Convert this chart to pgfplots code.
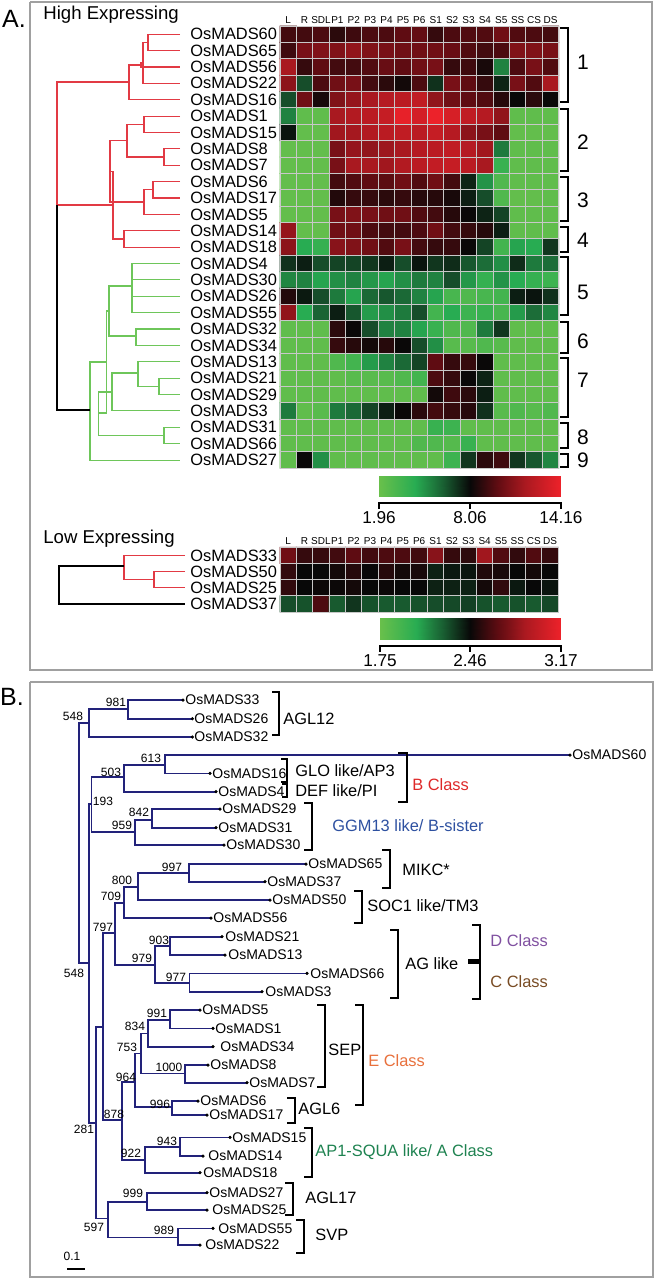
\documentclass[border=0pt]{standalone}
\usepackage{pgfplots}
\pgfplotsset{compat=1.18}
\usepackage{fontspec}
\setmainfont{Liberation Sans}

\definecolor{dred}{RGB}{226,58,68}
\definecolor{dgreen}{RGB}{110,198,90}
\definecolor{tblue}{RGB}{34,34,122}
\definecolor{boxgray}{RGB}{160,160,160}
\definecolor{cellline}{RGB}{200,200,200}
\definecolor{bred}{RGB}{222,40,40}
\definecolor{ggblue}{RGB}{45,80,160}
\definecolor{dpurple}{RGB}{128,80,160}
\definecolor{cbrown}{RGB}{120,75,35}
\definecolor{eorange}{RGB}{232,112,60}
\definecolor{agreen}{RGB}{30,130,80}

\pgfplotsset{
  colormap={gbr}{rgb255(0cm)=(105,192,75) rgb255(4cm)=(40,172,82) rgb255(7cm)=(25,95,50)
    rgb255(10cm)=(8,8,8) rgb255(13cm)=(95,12,18) rgb255(16cm)=(170,25,32) rgb255(20cm)=(238,34,42)},
  dr/.style={dred, line width=0.55pt},
  dg/.style={dgreen, line width=0.55pt},
  dk/.style={black, line width=0.55pt},
  tb/.style={tblue, line width=0.8pt},
  br/.style={black, line width=1.1pt},
  heat/.style={scale only axis, clip=false, axis on top,
    axis line style={draw=none}, major tick length=0pt, minor tick length=0pt,
    xmin=-0.5, xmax=16.5, y dir=reverse,
    xtick={0,...,16}, xticklabels={L,R,SDL,P1,P2,P3,P4,P5,P6,S1,S2,S3,S4,S5,SS,CS,DS},
    xticklabel pos=right, yticklabels={},
    minor xtick={-0.5,0.5,...,16.5},
    xmajorgrids=false, xminorgrids=true, ymajorgrids=true,
    minor grid style={cellline, line width=0.5pt},
    major grid style={cellline, line width=0.5pt},
    xticklabel style={font=\fontsize{5}{6}\selectfont, inner sep=1pt},
    colormap name=gbr},
}
\newcommand{\fa}{\fontsize{8.2}{9}\selectfont}
\newcommand{\fb}{\fontsize{7}{8}\selectfont}
\newcommand{\fs}{\fontsize{6}{7}\selectfont}
\newcommand{\fc}{\fontsize{8.2}{9}\selectfont}
\newcommand{\fn}{\fontsize{10.5}{12}\selectfont}

\begin{document}
\begin{tikzpicture}
\useasboundingbox (0,0) rectangle (328pt,-640pt);

% ---------------- layout axis, one unit = one pixel of the reference
\begin{axis}[at={(0pt,0pt)}, anchor=north west, scale only axis,
  width=328pt, height=640pt, xmin=0, xmax=656, ymin=0, ymax=1280,
  y dir=reverse, hide axis, clip=false]

% panel frames
\addplot[boxgray, line width=0.8pt] coordinates {(30,2) (652,2) (652,670) (30,670) (30,2)};
\addplot[boxgray, line width=0.8pt] coordinates {(30,682) (653,682) (653,1277) (30,1277) (30,682)};

\node[font=\fontsize{12.5}{14}\selectfont] at (axis cs:14,19) {A.};
\node[font=\fontsize{12.5}{14}\selectfont] at (axis cs:12,697) {B.};
\node[anchor=west, inner sep=0pt, font=\fontsize{9.3}{11}\selectfont] at (axis cs:43,14.5) {High Expressing};
\node[anchor=west, inner sep=0pt, font=\fontsize{9.3}{11}\selectfont] at (axis cs:43,539) {Low Expressing};

% gene names
\foreach \y/\g in {34.2/60,50.6/65,67.0/56,83.3/22,99.7/16,116.1/1,132.5/15,148.9/8,165.2/7,
  181.6/6,198.0/17,214.4/5,230.8/14,247.1/18,263.5/4,279.9/30,296.3/26,312.7/55,329.0/32,
  345.4/34,361.8/13,378.2/21,394.6/29,410.9/3,427.3/31,443.7/66,460.1/27,
  555.4/33,571.6/50,587.8/25,604.0/37}{
  \edef\temp{\noexpand\node[anchor=west, inner sep=0pt, font=\noexpand\fa] at (axis cs:190,\y) {OsMADS\g};}
  \temp
}

% dendrogram, high expressing (red)
\addplot[dr] coordinates {(180,34.2) (148,34.2) (148,50.6) (180,50.6)};
\addplot[dr] coordinates {(148,42.4) (143,42.4) (143,83.3) (180,83.3)};
\addplot[dr] coordinates {(143,63) (141,63) (141,67.0) (180,67.0)};
\addplot[dr] coordinates {(141,65) (129,65) (129,99.7) (180,99.7)};
\addplot[dr] coordinates {(180,116.1) (144,116.1) (144,132.5) (180,132.5)};
\addplot[dr] coordinates {(180,148.9) (164,148.9) (164,165.2) (180,165.2)};
\addplot[dr] coordinates {(144,124.3) (127,124.3) (127,157) (164,157)};
\addplot[dr] coordinates {(180,181.6) (153,181.6) (153,198.0) (180,198.0)};
\addplot[dr] coordinates {(153,189.8) (144,189.8) (144,214.4) (180,214.4)};
\addplot[dr] coordinates {(127,140.7) (110,140.7) (110,202) (144,202)};
\addplot[dr] coordinates {(180,230.8) (124,230.8) (124,247.1) (180,247.1)};
\addplot[dr] coordinates {(110,171.4) (113,171.4) (113,239) (124,239)};
\addplot[dr] coordinates {(129,82) (57,82) (57,205) (113,205)};
% green
\addplot[dg] coordinates {(180,263.5) (132,263.5) (132,312.7) (180,312.7)};
\addplot[dg] coordinates {(132,279.9) (180,279.9)};
\addplot[dg] coordinates {(132,296.3) (180,296.3)};
\addplot[dg] coordinates {(132,286) (109,286) (109,336) (136,336)};
\addplot[dg] coordinates {(180,329.0) (136,329.0) (136,345.4) (180,345.4)};
\addplot[dg] coordinates {(109,311) (106.7,311) (106.7,413) (98.3,413)};
\addplot[dg] coordinates {(180,378.2) (159,378.2) (159,394.6) (180,394.6)};
\addplot[dg] coordinates {(180,361.8) (138,361.8) (138,386.4) (159,386.4)};
\addplot[dg] coordinates {(138,373) (112,373) (112,410.9) (180,410.9)};
\addplot[dg] coordinates {(180,427.3) (164,427.3) (164,443.7) (180,443.7)};
\addplot[dg] coordinates {(112,392) (98.3,392) (98.3,435.5) (164,435.5)};
\addplot[dg] coordinates {(106.7,362) (90,362) (90,460.1) (180,460.1)};
\addplot[dk] coordinates {(57,205) (57,410) (90,410)};

% dendrogram, low expressing
\addplot[dr] coordinates {(185,555.4) (124,555.4) (124,579.7) (154,579.7)};
\addplot[dr] coordinates {(185,571.6) (154,571.6) (154,587.8) (185,587.8)};
\addplot[dk] coordinates {(124,566) (59,566) (59,604) (185,604)};

% cluster brackets
\addplot[br] coordinates {(560,28) (568,28) (568,102) (560,102)};
\addplot[br] coordinates {(560,109) (568,109) (568,171) (560,171)};
\addplot[br] coordinates {(560,177) (568,177) (568,221) (560,221)};
\addplot[br] coordinates {(560,227) (568,227) (568,252) (560,252)};
\addplot[br] coordinates {(560,257) (568,257) (568,315) (560,315)};
\addplot[br] coordinates {(560,322) (568,322) (568,353) (560,353)};
\addplot[br] coordinates {(560,358) (568,358) (568,417) (560,417)};
\addplot[br] coordinates {(560,423) (568,423) (568,448) (560,448)};
\addplot[br] coordinates {(560,454) (568,454) (568,467) (560,467)};
\foreach \y/\n in {62/1,142/2,200/3,240/4,292/5,341/6,380/7,437/8,460/9}{
  \edef\temp{\noexpand\node[font=\noexpand\fn] at (axis cs:583,\y) {\n};}
  \temp
}

% colour scale lines
\addplot[black, line width=0.6pt] coordinates {(379,509) (379,503) (561,503) (561,509)};
\addplot[black, line width=0.6pt] coordinates {(470,503) (470,509)};
\node[font=\fontsize{8.6}{10}\selectfont] at (axis cs:379,518) {1.96};
\node[font=\fontsize{8.6}{10}\selectfont] at (axis cs:470,518) {8.06};
\node[font=\fontsize{8.6}{10}\selectfont] at (axis cs:561,518) {14.16};
\addplot[black, line width=0.6pt] coordinates {(380,652) (380,646) (561,646) (561,652)};
\addplot[black, line width=0.6pt] coordinates {(470,646) (470,652)};
\node[font=\fontsize{8.6}{10}\selectfont] at (axis cs:380,661) {1.75};
\node[font=\fontsize{8.6}{10}\selectfont] at (axis cs:470,661) {2.46};
\node[font=\fontsize{8.6}{10}\selectfont] at (axis cs:561,661) {3.17};

% ---------------- panel B tree
\addplot[tb] coordinates {(89,723) (79,723) (79,963) (89,963)};
\addplot[tb] coordinates {(128,709) (89,709) (89,737) (192.3,737)};
\addplot[tb] coordinates {(183,700) (128,700) (128,718.7) (192.3,718.7)};
\addplot[tb] coordinates {(91.5,804) (89,804) (89,1123) (96,1123)};
\addplot[tb] coordinates {(124,777) (91.5,777) (91.5,832) (135,832)};
\addplot[tb] coordinates {(165,765) (124,765) (124,791.7) (216,791.7)};
\addplot[tb] coordinates {(570,755) (165,755) (165,773.3) (210,773.3)};
\addplot[tb] coordinates {(152,820) (135,820) (135,845) (224,845)};
\addplot[tb] coordinates {(220,809) (152,809) (152,827.7) (216,827.7)};
\addplot[tb] coordinates {(103,1026.7) (96,1026.7) (96,1218.3) (108,1218.3)};
\addplot[tb] coordinates {(115,933) (103,933) (103,1120) (122,1120)};
\addplot[tb] coordinates {(124,903) (115,903) (115,965) (155,965)};
\addplot[tb] coordinates {(138,887) (124,887) (124,918) (211,918)};
\addplot[tb] coordinates {(189,873) (138,873) (138,900) (270,900)};
\addplot[tb] coordinates {(306,864) (189,864) (189,881.7) (265,881.7)};
\addplot[tb] coordinates {(170,946) (155,946) (155,983) (189.3,983)};
\addplot[tb] coordinates {(222,936.7) (170,936.7) (170,955) (225,955)};
\addplot[tb] coordinates {(307,973.3) (189.3,973.3) (189.3,991.7) (262,991.7)};
\addplot[tb] coordinates {(135,1081.7) (122,1081.7) (122,1160) (145,1160)};
\addplot[tb] coordinates {(141,1053.3) (135,1053.3) (135,1107) (172,1107)};
\addplot[tb] coordinates {(148,1033.3) (141,1033.3) (141,1073.3) (185,1073.3)};
\addplot[tb] coordinates {(170,1020) (148,1020) (148,1046.7) (213,1046.7)};
\addplot[tb] coordinates {(200,1010) (170,1010) (170,1028.3) (213,1028.3)};
\addplot[tb] coordinates {(208,1065) (185,1065) (185,1082.7) (247,1082.7)};
\addplot[tb] coordinates {(198,1101) (172,1101) (172,1115) (207,1115)};
\addplot[tb] coordinates {(180,1146.7) (145,1146.7) (145,1172.7) (200,1172.7)};
\addplot[tb] coordinates {(230,1137.3) (180,1137.3) (180,1156) (203,1156)};
\addplot[tb] coordinates {(147,1201.7) (108,1201.7) (108,1237.3) (178,1237.3)};
\addplot[tb] coordinates {(207,1192.7) (147,1192.7) (147,1210) (207,1210)};
\addplot[tb] coordinates {(213,1228.3) (178,1228.3) (178,1245) (200,1245)};
% leaf tips
\addplot[only marks, mark=*, mark size=0.6pt, black] coordinates {
 (183,700) (192.3,718.7) (192.3,737) (570,755) (210,773.3) (216,791.7) (220,809) (216,827.7)
 (224,845) (306,864) (265,881.7) (270,900) (211,918) (222,936.7) (225,955) (307,973.3)
 (262,991.7) (200,1010) (213,1028.3) (213,1046.7) (208,1065) (247,1082.7) (198,1101)
 (207,1115) (230,1137.3) (203,1156) (200,1172.7) (207,1192.7) (207,1210) (213,1228.3) (200,1245)};

\foreach \x/\y/\g in {185/700/33,194/718.7/26,194/737/32,572/755/60,212/773.3/16,218/791.7/4,
  222/809/29,218/827.7/31,226/845/30,308/864/65,267/881.7/37,272/900/50,213/918/56,
  225/936.7/21,228/955/13,310/973.3/66,265/991.7/3,202/1010/5,215/1028.3/1,220/1046.7/34,
  210/1065/8,249/1082.7/7,200/1101/6,209/1115/17,232/1137.3/15,208/1156/14,203/1172.7/18,
  209/1192.7/27,212/1210/25,218/1228.3/55,205/1245/22}{
  \edef\temp{\noexpand\node[anchor=west, inner sep=0pt, font=\noexpand\fb] at (axis cs:\x,\y) {OsMADS\g};}
  \temp
}
% bootstrap values
\foreach \x/\y/\b in {116/702/981,73/716/548,151/758/613,111/772/503,103/801/193,139/812/842,
  122/825/959,172/867/997,122/880/800,111/896/709,103/927/797,159/940/903,142/958/979,
  74/973/548,176/977/977,157/1013/991,135/1026/834,127/1047/753,169/1067/1000,126/1077/964,
  160/1104/996,114/1114/878,84/1129/281,167/1141/943,131/1153/922,133/1193/999,94/1227/597,
  164/1230/989}{
  \edef\temp{\noexpand\node[inner sep=0pt, font=\noexpand\fs] at (axis cs:\x,\y) {\b};}
  \temp
}
\node[inner sep=0pt, font=\fs] at (axis cs:72,1256) {0.1};
\addplot[black, line width=1.1pt] coordinates {(67,1269) (85,1269)};

% clade brackets
\addplot[br] coordinates {(272,692) (279,692) (279,735) (272,735)};
\addplot[br] coordinates {(281,759) (287,759) (287,782) (281,782)};
\addplot[br] coordinates {(282,784) (287,784) (287,797) (282,797)};
\addplot[br] coordinates {(398,753) (407,753) (407,802) (398,802)};
\addplot[br] coordinates {(304,803) (312,803) (312,850) (304,850)};
\addplot[br] coordinates {(382,850) (390,850) (390,888) (382,888)};
\addplot[br] coordinates {(354,891) (362,891) (362,923) (354,923)};
\addplot[br] coordinates {(390,930) (398,930) (398,998) (390,998)};
\addplot[br] coordinates {(472,925) (480,925) (480,999) (472,999)};
\addplot[black, line width=2.2pt] coordinates {(468,961.5) (480,961.5)};
\addplot[br] coordinates {(317,1005) (325,1005) (325,1087) (317,1087)};
\addplot[br] coordinates {(355,1005) (363,1005) (363,1105) (355,1105)};
\addplot[br] coordinates {(287,1098) (295,1098) (295,1123) (287,1123)};
\addplot[br] coordinates {(304,1128) (312,1128) (312,1177) (304,1177)};
\addplot[br] coordinates {(285,1183) (293,1183) (293,1215) (285,1215)};
\addplot[br] coordinates {(296,1220) (304,1220) (304,1253) (296,1253)};

\node[anchor=west, inner sep=0pt, font=\fc] at (axis cs:283,719) {AGL12};
\node[anchor=west, inner sep=0pt, font=\fc] at (axis cs:295,771) {GLO like/AP3};
\node[anchor=west, inner sep=0pt, font=\fc] at (axis cs:295,791) {DEF like/PI};
\node[anchor=west, inner sep=0pt, font=\fc, text=bred] at (axis cs:412,785) {B Class};
\node[anchor=west, inner sep=0pt, font=\fc, text=ggblue] at (axis cs:332,826) {GGM13 like/ B-sister};
\node[anchor=west, inner sep=0pt, font=\fc] at (axis cs:402,870) {MIKC*};
\node[anchor=west, inner sep=0pt, font=\fc] at (axis cs:367,906) {SOC1 like/TM3};
\node[anchor=west, inner sep=0pt, font=\fc] at (axis cs:405,964) {AG like};
\node[anchor=west, inner sep=0pt, font=\fc, text=dpurple] at (axis cs:490,941) {D Class};
\node[anchor=west, inner sep=0pt, font=\fc, text=cbrown] at (axis cs:490,982) {C Class};
\node[anchor=west, inner sep=0pt, font=\fc] at (axis cs:328,1050) {SEP};
\node[anchor=west, inner sep=0pt, font=\fc, text=eorange] at (axis cs:368,1061) {E Class};
\node[anchor=west, inner sep=0pt, font=\fc] at (axis cs:298,1109) {AGL6};
\node[anchor=west, inner sep=0pt, font=\fc, text=agreen] at (axis cs:315,1152) {AP1-SQUA like/ A Class};
\node[anchor=west, inner sep=0pt, font=\fc] at (axis cs:305,1198) {AGL17};
\node[anchor=west, inner sep=0pt, font=\fc] at (axis cs:315,1235) {SVP};
\end{axis}

% ---------------- heat map, high expressing
\begin{axis}[heat, at={(140pt,-13pt)}, anchor=north west,
  width=139.35pt, height=221.15pt, ymin=-0.5, ymax=26.5,
  ytick={-0.5,0.5,...,26.5},
  point meta min=1.96, point meta max=14.16]
\addplot[matrix plot*, mesh/cols=17, point meta=explicit] coordinates {
(0,0)[9.3] (1,0)[9.3] (2,0)[9.5] (3,0)[8.8] (4,0)[9.2] (5,0)[9.5] (6,0)[9.5] (7,0)[9.9] (8,0)[10.0] (9,0)[9.0] (10,0)[9.5] (11,0)[9.6] (12,0)[9.6] (13,0)[10.3] (14,0)[9.6] (15,0)[9.5] (16,0)[9.3]
(0,1)[9.2] (1,1)[10.5] (2,1)[10.7] (3,1)[10.7] (4,1)[11.1] (5,1)[10.7] (6,1)[10.5] (7,1)[10.3] (8,1)[10.3] (9,1)[10.3] (10,1)[10.1] (11,1)[9.6] (12,1)[9.3] (13,1)[9.5] (14,1)[10.7] (15,1)[10.7] (16,1)[10.5]
(0,2)[11.7] (1,2)[9.0] (2,2)[9.9] (3,2)[9.3] (4,2)[9.3] (5,2)[9.6] (6,2)[10.1] (7,2)[9.9] (8,2)[10.3] (9,2)[10.5] (10,2)[9.0] (11,2)[9.2] (12,2)[8.4] (13,2)[5.4] (14,2)[9.5] (15,2)[10.5] (16,2)[9.6]
(0,3)[11.0] (1,3)[6.6] (2,3)[9.5] (3,3)[10.3] (4,3)[10.5] (5,3)[9.3] (6,3)[8.8] (7,3)[8.3] (8,3)[9.5] (9,3)[7.2] (10,3)[10.5] (11,3)[9.9] (12,3)[9.0] (13,3)[7.5] (14,3)[10.5] (15,3)[9.6] (16,3)[11.7]
(0,4)[6.6] (1,4)[10.3] (2,4)[8.4] (3,4)[10.7] (4,4)[11.2] (5,4)[11.7] (6,4)[12.1] (7,4)[12.3] (8,4)[12.5] (9,4)[11.1] (10,4)[10.3] (11,4)[9.9] (12,4)[9.6] (13,4)[8.7] (14,4)[8.1] (15,4)[8.8] (16,4)[8.1]
(0,5)[5.4] (1,5)[2.3] (2,5)[2.3] (3,5)[11.7] (4,5)[12.0] (5,5)[12.3] (6,5)[12.7] (7,5)[13.9] (8,5)[13.2] (9,5)[14.1] (10,5)[13.3] (11,5)[12.5] (12,5)[12.1] (13,5)[11.1] (14,5)[2.3] (15,5)[2.3] (16,5)[2.3]
(0,6)[7.8] (1,6)[2.2] (2,6)[2.2] (3,6)[11.5] (4,6)[11.6] (5,6)[12.0] (6,6)[12.3] (7,6)[12.5] (8,6)[12.3] (9,6)[12.7] (10,6)[12.1] (11,6)[11.0] (12,6)[10.5] (13,6)[9.9] (14,6)[2.2] (15,6)[2.2] (16,6)[2.2]
(0,7)[2.2] (1,7)[2.2] (2,7)[2.2] (3,7)[10.5] (4,7)[11.2] (5,7)[11.1] (6,7)[11.4] (7,7)[11.7] (8,7)[12.1] (9,7)[12.3] (10,7)[12.5] (11,7)[12.1] (12,7)[11.5] (13,7)[5.6] (14,7)[2.3] (15,7)[2.3] (16,7)[2.3]
(0,8)[2.2] (1,8)[2.2] (2,8)[2.2] (3,8)[10.5] (4,8)[11.7] (5,8)[11.7] (6,8)[11.5] (7,8)[12.0] (8,8)[12.3] (9,8)[12.6] (10,8)[12.7] (11,8)[12.3] (12,8)[11.7] (13,8)[3.8] (14,8)[2.3] (15,8)[2.3] (16,8)[2.3]
(0,9)[2.2] (1,9)[2.2] (2,9)[2.2] (3,9)[9.3] (4,9)[9.6] (5,9)[9.9] (6,9)[9.8] (7,9)[10.3] (8,9)[9.6] (9,9)[10.3] (10,9)[9.3] (11,9)[7.5] (12,9)[5.0] (13,9)[2.9] (14,9)[2.3] (15,9)[2.3] (16,9)[2.3]
(0,10)[2.2] (1,10)[2.2] (2,10)[2.2] (3,10)[8.6] (4,10)[9.0] (5,10)[9.0] (6,10)[8.8] (7,10)[9.0] (8,10)[8.7] (9,10)[8.7] (10,10)[8.4] (11,10)[7.6] (12,10)[6.6] (13,10)[2.9] (14,10)[2.2] (15,10)[2.2] (16,10)[2.3]
(0,11)[2.2] (1,11)[2.2] (2,11)[2.2] (3,11)[10.5] (4,11)[10.7] (5,11)[10.5] (6,11)[10.3] (7,11)[10.3] (8,11)[9.6] (9,11)[9.3] (10,11)[8.7] (11,11)[8.1] (12,11)[7.5] (13,11)[6.8] (14,11)[2.3] (15,11)[2.3] (16,11)[2.3]
(0,12)[11.2] (1,12)[2.2] (2,12)[2.2] (3,12)[10.3] (4,12)[10.3] (5,12)[9.5] (6,12)[9.3] (7,12)[9.3] (8,12)[9.5] (9,12)[10.3] (10,12)[9.3] (11,12)[9.0] (12,12)[8.7] (13,12)[7.6] (14,12)[2.3] (15,12)[2.3] (16,12)[2.3]
(0,13)[11.0] (1,13)[4.4] (2,13)[3.9] (3,13)[10.9] (4,13)[10.7] (5,13)[10.3] (6,13)[9.6] (7,13)[10.5] (8,13)[9.3] (9,13)[9.0] (10,13)[9.0] (11,13)[8.1] (12,13)[6.8] (13,13)[3.4] (14,13)[4.6] (15,13)[4.4] (16,13)[7.1]
(0,14)[7.2] (1,14)[7.6] (2,14)[6.6] (3,14)[6.8] (4,14)[6.8] (5,14)[7.1] (6,14)[7.6] (7,14)[6.6] (8,14)[7.8] (9,14)[7.1] (10,14)[7.3] (11,14)[6.4] (12,14)[5.9] (13,14)[5.1] (14,14)[7.3] (15,14)[5.6] (16,14)[5.9]
(0,15)[5.3] (1,15)[5.4] (2,15)[4.6] (3,15)[5.1] (4,15)[5.4] (5,15)[4.9] (6,15)[4.6] (7,15)[5.1] (8,15)[5.6] (9,15)[5.4] (10,15)[6.6] (11,15)[4.9] (12,15)[3.9] (13,15)[5.0] (14,15)[4.4] (15,15)[3.9] (16,15)[3.6]
(0,16)[8.6] (1,16)[7.7] (2,16)[6.6] (3,16)[5.6] (4,16)[4.6] (5,16)[6.0] (6,16)[6.4] (7,16)[6.0] (8,16)[5.4] (9,16)[4.6] (10,16)[3.2] (11,16)[2.9] (12,16)[3.2] (13,16)[3.4] (14,16)[7.6] (15,16)[7.8] (16,16)[7.2]
(0,17)[11.1] (1,17)[4.4] (2,17)[6.1] (3,17)[7.6] (4,17)[6.4] (5,17)[4.8] (6,17)[5.1] (7,17)[5.6] (8,17)[6.6] (9,17)[3.4] (10,17)[4.4] (11,17)[3.6] (12,17)[3.8] (13,17)[3.2] (14,17)[4.8] (15,17)[5.9] (16,17)[5.3]
(0,18)[2.3] (1,18)[2.3] (2,18)[2.3] (3,18)[8.8] (4,18)[8.1] (5,18)[6.6] (6,18)[5.4] (7,18)[5.4] (8,18)[4.6] (9,18)[3.8] (10,18)[2.9] (11,18)[2.9] (12,18)[5.6] (13,18)[7.1] (14,18)[2.3] (15,18)[2.3] (16,18)[2.3]
(0,19)[2.3] (1,19)[2.3] (2,19)[2.3] (3,19)[9.0] (4,19)[8.7] (5,19)[8.3] (6,19)[8.7] (7,19)[8.1] (8,19)[6.6] (9,19)[5.1] (10,19)[2.6] (11,19)[2.6] (12,19)[2.9] (13,19)[2.6] (14,19)[2.3] (15,19)[2.3] (16,19)[2.3]
(0,20)[2.3] (1,20)[2.3] (2,20)[2.3] (3,20)[2.9] (4,20)[3.4] (5,20)[4.8] (6,20)[5.4] (7,20)[6.0] (8,20)[6.8] (9,20)[9.9] (10,20)[9.0] (11,20)[9.0] (12,20)[8.1] (13,20)[2.3] (14,20)[2.3] (15,20)[2.3] (16,20)[2.3]
(0,21)[2.3] (1,21)[2.3] (2,21)[2.3] (3,21)[2.3] (4,21)[2.6] (5,21)[2.6] (6,21)[2.6] (7,21)[2.9] (8,21)[3.4] (9,21)[9.5] (10,21)[9.0] (11,21)[8.1] (12,21)[7.5] (13,21)[2.3] (14,21)[2.3] (15,21)[2.3] (16,21)[2.3]
(0,22)[2.3] (1,22)[2.3] (2,22)[2.3] (3,22)[2.3] (4,22)[2.3] (5,22)[2.3] (6,22)[2.3] (7,22)[2.3] (8,22)[2.3] (9,22)[8.3] (10,22)[9.2] (11,22)[8.8] (12,22)[7.6] (13,22)[2.3] (14,22)[2.3] (15,22)[2.3] (16,22)[2.3]
(0,23)[5.6] (1,23)[2.3] (2,23)[2.6] (3,23)[5.6] (4,23)[6.0] (5,23)[6.8] (6,23)[7.6] (7,23)[8.1] (8,23)[8.8] (9,23)[9.3] (10,23)[9.0] (11,23)[8.7] (12,23)[7.2] (13,23)[2.6] (14,23)[2.9] (15,23)[2.6] (16,23)[2.9]
(0,24)[2.3] (1,24)[2.3] (2,24)[2.3] (3,24)[2.3] (4,24)[2.3] (5,24)[2.3] (6,24)[2.3] (7,24)[2.3] (8,24)[2.3] (9,24)[3.8] (10,24)[3.6] (11,24)[2.3] (12,24)[2.3] (13,24)[2.3] (14,24)[2.3] (15,24)[2.3] (16,24)[2.3]
(0,25)[2.3] (1,25)[2.3] (2,25)[2.3] (3,25)[2.3] (4,25)[2.3] (5,25)[2.3] (6,25)[2.3] (7,25)[2.3] (8,25)[2.9] (9,25)[2.9] (10,25)[2.7] (11,25)[3.8] (12,25)[2.3] (13,25)[2.3] (14,25)[2.3] (15,25)[2.3] (16,25)[2.3]
(0,26)[2.3] (1,26)[8.1] (2,26)[5.1] (3,26)[2.3] (4,26)[2.3] (5,26)[2.3] (6,26)[2.3] (7,26)[2.3] (8,26)[2.3] (9,26)[2.3] (10,26)[3.6] (11,26)[7.1] (12,26)[8.8] (13,26)[9.2] (14,26)[7.1] (15,26)[6.4] (16,26)[5.3]
};
% colour bar
\addplot[surf, shader=interp, mesh/cols=11, point meta=explicit] coordinates {
(5.54,26.97)[1.96] (6.65,26.97)[3.18] (7.76,26.97)[4.40] (8.87,26.97)[5.62] (9.98,26.97)[6.84] (11.09,26.97)[8.06]
(12.20,26.97)[9.28] (13.31,26.97)[10.50] (14.42,26.97)[11.72] (15.53,26.97)[12.94] (16.64,26.97)[14.16]
(5.54,28.25)[1.96] (6.65,28.25)[3.18] (7.76,28.25)[4.40] (8.87,28.25)[5.62] (9.98,28.25)[6.84] (11.09,28.25)[8.06]
(12.20,28.25)[9.28] (13.31,28.25)[10.50] (14.42,28.25)[11.72] (15.53,28.25)[12.94] (16.64,28.25)[14.16]
};
\end{axis}

% ---------------- heat map, low expressing
\begin{axis}[heat, at={(140pt,-273.65pt)}, anchor=north west,
  width=139.15pt, height=32.35pt, ymin=-0.5, ymax=3.5,
  ytick={-0.5,0.5,...,3.5},
  point meta min=1.75, point meta max=3.17]
\addplot[matrix plot*, mesh/cols=17, point meta=explicit] coordinates {
(0,0)[2.72] (1,0)[2.57] (2,0)[2.57] (3,0)[2.60] (4,0)[2.67] (5,0)[2.60] (6,0)[2.63] (7,0)[2.63] (8,0)[2.60] (9,0)[2.79] (10,0)[2.57] (11,0)[2.55] (12,0)[2.86] (13,0)[2.64] (14,0)[2.56] (15,0)[2.64] (16,0)[2.57]
(0,1)[2.56] (1,1)[2.46] (2,1)[2.46] (3,1)[2.49] (4,1)[2.53] (5,1)[2.46] (6,1)[2.53] (7,1)[2.49] (8,1)[2.50] (9,1)[2.40] (10,1)[2.42] (11,1)[2.43] (12,1)[2.52] (13,1)[2.50] (14,1)[2.46] (15,1)[2.49] (16,1)[2.46]
(0,2)[2.56] (1,2)[2.46] (2,2)[2.47] (3,2)[2.47] (4,2)[2.49] (5,2)[2.46] (6,2)[2.47] (7,2)[2.46] (8,2)[2.46] (9,2)[2.40] (10,2)[2.40] (11,2)[2.40] (12,2)[2.49] (13,2)[2.56] (14,2)[2.42] (15,2)[2.46] (16,2)[2.43]
(0,3)[2.29] (1,3)[2.28] (2,3)[2.63] (3,3)[2.26] (4,3)[2.35] (5,3)[2.28] (6,3)[2.26] (7,3)[2.26] (8,3)[2.28] (9,3)[2.29] (10,3)[2.30] (11,3)[2.32] (12,3)[2.28] (13,3)[2.26] (14,3)[2.28] (15,3)[2.26] (16,3)[2.30]
};
\addplot[surf, shader=interp, mesh/cols=11, point meta=explicit] coordinates {
(5.61,3.89)[1.75] (6.71,3.89)[1.89] (7.82,3.89)[2.03] (8.92,3.89)[2.18] (10.03,3.89)[2.32] (11.13,3.89)[2.46]
(12.23,3.89)[2.60] (13.34,3.89)[2.74] (14.44,3.89)[2.89] (15.55,3.89)[3.03] (16.65,3.89)[3.17]
(5.61,5.19)[1.75] (6.71,5.19)[1.89] (7.82,5.19)[2.03] (8.92,5.19)[2.18] (10.03,5.19)[2.32] (11.13,5.19)[2.46]
(12.23,5.19)[2.60] (13.34,5.19)[2.74] (14.44,5.19)[2.89] (15.55,5.19)[3.03] (16.65,5.19)[3.17]
};
\end{axis}
\end{tikzpicture}
\end{document}
